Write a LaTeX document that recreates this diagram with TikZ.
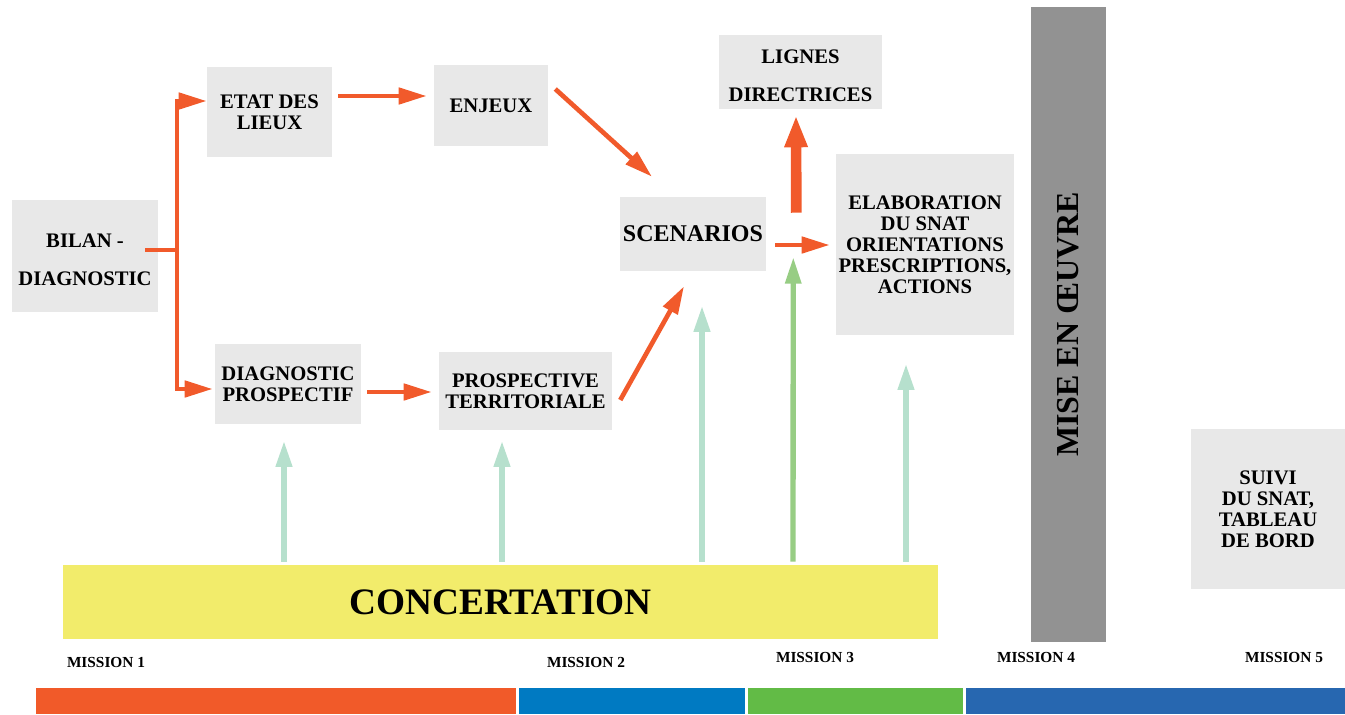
\documentclass[tikz,border=0pt]{standalone}
\usepackage{fontspec}
\setmainfont{Liberation Serif}
\usetikzlibrary{arrows.meta,calc}
\definecolor{orng}{RGB}{241,90,43}
\definecolor{mint}{RGB}{182,224,205}
\definecolor{grn}{RGB}{151,205,132}
\definecolor{boxgray}{RGB}{232,232,232}
\definecolor{bargray}{RGB}{146,146,146}
\definecolor{ylw}{RGB}{242,236,107}
\definecolor{borng}{RGB}{241,90,41}
\definecolor{bblue}{RGB}{0,122,194}
\definecolor{bgreen}{RGB}{98,187,70}
\definecolor{bblue2}{RGB}{39,103,176}
\begin{document}
\begin{tikzpicture}[x=0.75pt,y=-0.75pt,
  box/.style n args={2}{fill=boxgray, minimum width=#1*0.75pt, minimum height=#2*0.75pt,
    inner sep=0pt, align=center, font=\fontsize{15.5}{15.75}\selectfont\bfseries},
  oline/.style={draw=orng, line width=3.5pt},
  oarrow/.style={oline, -{Triangle[length=21pt,width=12pt]}},
  thickarrow/.style={draw=orng, line width=8pt, -{Triangle[length=24pt,width=16pt]}},
  marrow/.style={draw=mint, line width=4.5pt, -{Triangle[length=20pt,width=11.5pt]}},
  garrow/.style={draw=grn, line width=4pt, -{Triangle[length=20pt,width=11.5pt]}},
  mission/.style={font=\fontsize{11.5}{12}\selectfont\bfseries, inner sep=0pt},
  band/.style={inner sep=0pt}
]
\useasboundingbox (0,0) rectangle (1345,714);

% boxes
\node[box={146}{112}] (bilan) at (85,256) {\rule{0pt}{16.5pt}BILAN -\\[12.75pt]DIAGNOSTIC};
\node[box={125}{90}] (etat) at (269.5,112) {ETAT DES\\LIEUX};
\node[box={114}{81}] (enjeux) at (491,105.5) {ENJEUX};
\node[box={146}{80}] (diag) at (288,384) {DIAGNOSTIC\\PROSPECTIF};
\node[box={173}{78}] (prosp) at (525.5,391) {PROSPECTIVE\\TERRITORIALE};
\node[box={146}{74}, font=\fontsize{18}{18}\selectfont\bfseries] (scen) at (693,234) {SCENARIOS};
\node[box={163}{74}] (lignes) at (800.5,72) {\rule{0pt}{16.5pt}LIGNES\\[12.75pt]DIRECTRICES};
\node[box={178}{181}] (elab) at (925,244.5) {ELABORATION\\DU SNAT\\ORIENTATIONS\\PRESCRIPTIONS,\\ACTIONS};
\node[box={154}{160}] (suivi) at (1268,509) {SUIVI\\DU SNAT,\\TABLEAU\\DE BORD};
\node[fill=bargray, minimum width=635*0.75pt, minimum height=75*0.75pt, inner sep=0pt,
  rotate=90, font=\fontsize{24}{24}\selectfont\bfseries] (mise) at (1068.5,324.5) {MISE EN ŒUVRE};
\node[fill=ylw, minimum width=875*0.75pt, minimum height=74*0.75pt, inner sep=0pt,
  font=\fontsize{28}{28}\selectfont\bfseries] (conc) at (500.5,602) {CONCERTATION};

% mission labels
\node[mission] (m1) at (106,662) {MISSION 1};
\node[mission] (m2) at (586,662) {MISSION 2};
\node[mission] (m3) at (815,657) {MISSION 3};
\node[mission] (m4) at (1036,657) {MISSION 4};
\node[mission] (m5) at (1284,657) {MISSION 5};

% bottom bands
\fill[borng] (36,688) rectangle (516,714);
\fill[bblue] (519,688) rectangle (745,714);
\fill[bgreen] (748,688) rectangle (963,714);
\fill[bblue2] (966,688) rectangle (1345,714);

% orange connectors
\coordinate (j) at (177,250);
\draw[oline] ([shift={(-13,-6)}]bilan.east) -- (j);
\draw[oarrow] (j) |- ([shift={(0,-11)}]etat.west);
\draw[oarrow] (j) |- ([shift={(-2,5)}]diag.west);
\draw[oarrow] ([shift={(6,-16)}]etat.east) -- ([shift={(-7,-9.5)}]enjeux.west);
\draw[oarrow] ([shift={(6,8)}]diag.east) -- ([shift={(-7,1)}]prosp.west);
\draw[oarrow] ([shift={(7,-16.5)}]enjeux.east) -- ([shift={(-41,-20)}]scen.north);
\draw[oarrow] ([shift={(8,9)}]prosp.east) -- ([shift={(-9,15)}]scen.south);
\draw[oarrow] ([shift={(9,11)}]scen.east) -- ([shift={(-6,0.5)}]elab.west);
\draw[thickarrow] ([shift={(30,16)}]scen.north east) -- ([shift={(-4.5,6)}]lignes.south);

% concertation arrows
\draw[marrow] ([shift={(-216.5,-3)}]conc.north) -- ([shift={(-4,16)}]diag.south);
\draw[marrow] ([shift={(1.5,-3)}]conc.north) -- ([shift={(-23.5,10)}]prosp.south);
\draw[marrow] ([shift={(201.5,-3)}]conc.north) -- ([shift={(9,34)}]scen.south);
\draw[marrow] ([shift={(405.5,-3)}]conc.north) -- ([shift={(-19,28)}]elab.south);
\draw[garrow] ([shift={(292.5,-3)}]conc.north) -- ([shift={(27,23)}]scen.east);
\end{tikzpicture}
\end{document}
